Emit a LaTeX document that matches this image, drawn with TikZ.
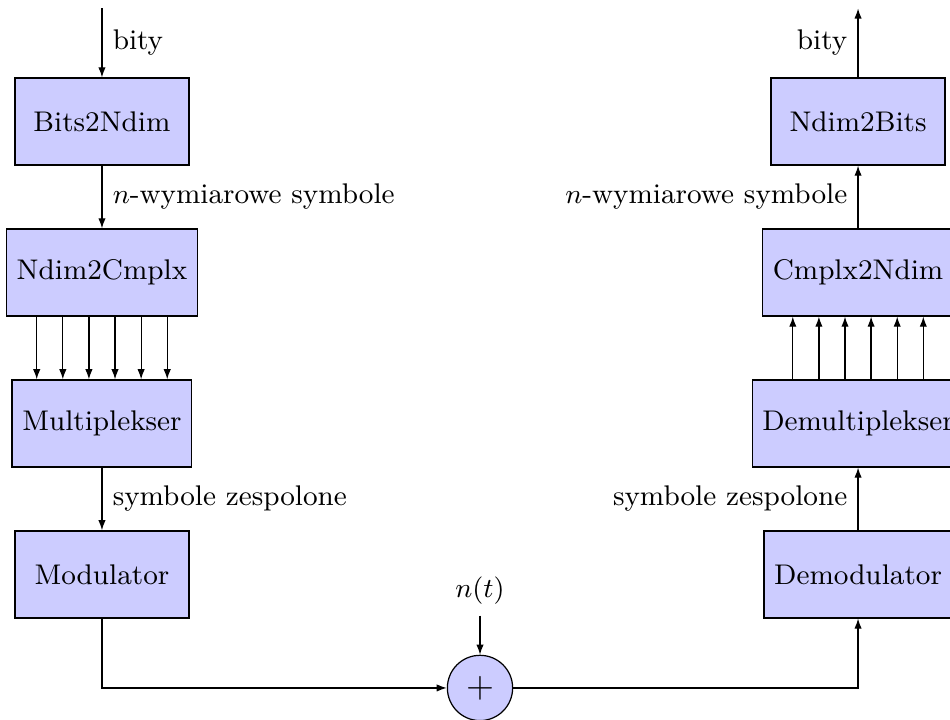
\documentclass[tikz,border=0pt]{standalone}
\usepackage{xcolor}
\usepackage{tikz}
\usetikzlibrary{shapes, arrows.meta, positioning}
\usepackage{amsmath}

\begin{document}
\begin{tikzpicture}[font=\fontsize{9.3}{11}\selectfont,
            block/.style={draw, rectangle, fill=blue!20, minimum width=2cm, minimum height=1cm, align=center},
            adder/.style={draw, circle, fill=blue!20, minimum size=0.75cm, inner sep=0pt, font=\fontsize{12.5}{14}\selectfont},
            arrow/.style={-{Latex[length=3.3pt, width=2.4pt]}, thin}]

            \useasboundingbox (-1.172,1.397) rectangle (9.747,-6.868);

            % nadajnik
            \node[block] (bits) at (0,0) {Bits2Ndim};
            \node[block] (cmplx) at (0,-1.735) {Ndim2Cmplx};
            \node[block] (mux) at (0,-3.47) {Multiplekser};
            \node[block] (mod) at (0,-5.205) {Modulator};

            % odbiornik
            \node[block] (nbits) at (8.69,0) {Ndim2Bits};
            \node[block] (ndim) at (8.69,-1.735) {Cmplx2Ndim};
            \node[block] (demux) at (8.69,-3.47) {Demultiplekser};
            \node[block] (demod) at (8.69,-5.205) {Demodulator};

            % kanal
            \node[adder] (sum) at (4.345,-6.51) {$+$};
            \node (noise) [above=0.45cm of sum] {$n(t)$};

            \coordinate (in) at (0,1.3);
            \coordinate (out) at (8.69,1.3);

            \draw[arrow] (in) -- node[right] {bity} (bits);
            \draw[arrow] (bits) -- node[right] {$n$-wymiarowe symbole} (cmplx);
            \foreach \dx in {-0.75,-0.45,-0.15,0.15,0.45,0.75}
                \draw[arrow] ([xshift=\dx cm]cmplx.south) -- ([xshift=\dx cm]mux.north);
            \draw[arrow] (mux) -- node[right] {symbole zespolone} (mod);
            \draw[arrow] (mod) |- (sum);
            \draw[arrow] (noise) -- (sum);
            \draw[arrow] (sum) -| (demod);
            \draw[arrow] (demod) -- node[left] {symbole zespolone} (demux);
            \foreach \dx in {-0.75,-0.45,-0.15,0.15,0.45,0.75}
                \draw[arrow] ([xshift=\dx cm]demux.north) -- ([xshift=\dx cm]ndim.south);
            \draw[arrow] (ndim) -- node[left] {$n$-wymiarowe symbole} (nbits);
            \draw[arrow] (nbits) -- node[left] {bity} (out);
        \end{tikzpicture}
\end{document}
